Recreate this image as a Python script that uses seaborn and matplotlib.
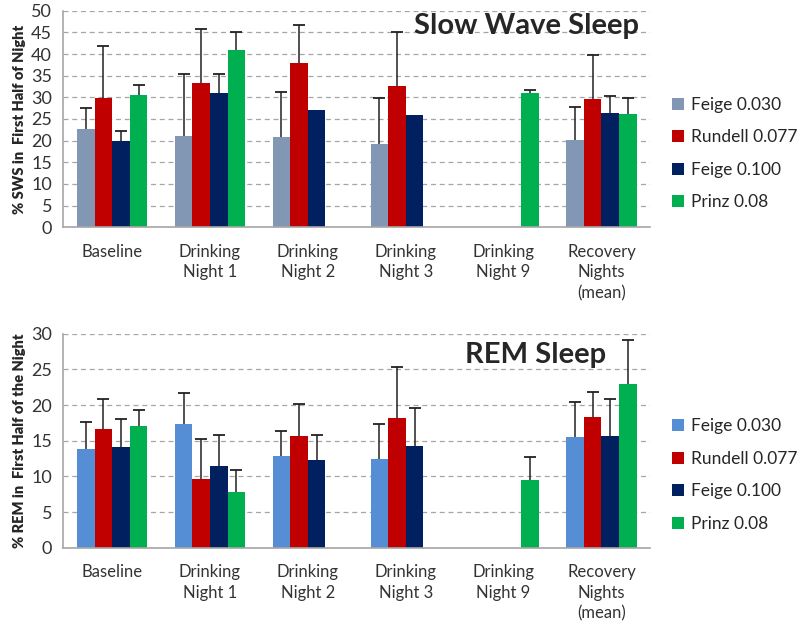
import numpy as np
import pandas as pd
import matplotlib
matplotlib.use("Agg")
import matplotlib.pyplot as plt
import seaborn as sns

categories = ["Baseline", "Drinking\nNight 1", "Drinking\nNight 2", "Drinking\nNight 3",
              "Drinking\nNight 9", "Recovery\nNights\n(mean)"]
groups = ["Feige 0.030", "Rundell 0.077", "Feige 0.100", "Prinz 0.08"]

# slow wave sleep (% in first half of night), None = not measured
sws_feige030 = [22.7, 21.1, 20.8, 19.3, None, 20.1]
sws_rundell077 = [29.9, 33.3, 38.0, 32.7, None, 29.6]
sws_feige100 = [19.8, 31.1, 27.0, 25.9, None, 26.3]
sws_prinz008 = [30.5, 41.0, None, None, 30.9, 26.1]
sws_err_feige030 = [4.8, 14.2, 10.4, 10.5, None, 7.7]
sws_err_rundell077 = [11.9, 12.5, 8.8, 12.3, None, 10.2]
sws_err_feige100 = [2.4, 4.2, None, None, None, 4.0]
sws_err_prinz008 = [2.3, 4.2, None, None, 0.7, 3.8]

# REM sleep (% in first half of the night)
rem_feige030 = [13.8, 17.3, 12.9, 12.5, None, 15.5]
rem_rundell077 = [16.6, 9.7, 15.6, 18.2, None, 18.3]
rem_feige100 = [14.1, 11.5, 12.3, 14.2, None, 15.7]
rem_prinz008 = [17.1, 7.8, None, None, 9.5, 23.0]
rem_err_feige030 = [3.8, 4.4, 3.4, 4.8, None, 5.0]
rem_err_rundell077 = [4.2, 5.5, 4.6, 7.1, None, 3.5]
rem_err_feige100 = [3.9, 4.3, 3.5, 5.4, None, 5.2]
rem_err_prinz008 = [2.2, 3.1, None, None, 3.2, 6.1]

sws_colors = ["#8197B4", "#C00000", "#002060", "#00B050"]
rem_colors = ["#558ED5", "#C00000", "#002060", "#00B050"]


def long_table(vals, errs):
    rows = []
    for g, v_list, e_list in zip(groups, vals, errs):
        for c, v, e in zip(categories, v_list, e_list):
            if v is not None:
                rows.append({"cat": c, "group": g, "val": v, "err": e})
    return pd.DataFrame(rows)


sns.set_style("white")
plt.rcParams["font.family"] = ["Lato", "DejaVu Sans"]

fig = plt.figure(figsize=(8, 6.31), dpi=100)
ax1 = fig.add_axes([0.079, 0.640, 0.734, 0.343])
ax2 = fig.add_axes([0.079, 0.132, 0.734, 0.339])


def draw(ax, df, colors, ymax, ylabel, title, title_xy, title_ha):
    sns.barplot(data=df, x="cat", y="val", hue="group", order=categories,
                hue_order=groups, palette=colors, width=0.72, saturation=1,
                errorbar=None, linewidth=0, ax=ax)
    for g, cont in zip(groups, ax.containers):
        sub = df[df["group"] == g]
        present = [c for c in categories if c in set(sub["cat"])]
        sub = sub.set_index("cat").reindex(present)
        for bar, (_, row) in zip(cont, sub.iterrows()):
            if pd.notna(row["err"]):
                x = bar.get_x() + bar.get_width() / 2
                top = bar.get_height() + row["err"]
                ax.plot([x, x], [bar.get_height(), top], color="#222222",
                        lw=1.1, zorder=3, solid_capstyle="butt")
                ax.plot(x, top, marker="_", markersize=8, mew=1.3,
                        color="#222222", zorder=3)
    ax.set_ylim(0, ymax)
    ax.set_xlim(-0.5, len(categories) - 0.5)
    ax.set_yticks(np.arange(0, ymax + 1, 5))
    ax.yaxis.grid(True, linestyle=(0, (4, 3)), color="#A6A6A6", linewidth=0.9)
    ax.set_axisbelow(True)
    for s in ["top", "right"]:
        ax.spines[s].set_visible(False)
    for s in ["left", "bottom"]:
        ax.spines[s].set_color("#A6A6A6")
        ax.spines[s].set_linewidth(1.2)
    ax.tick_params(axis="y", length=5, color="#A6A6A6", labelsize=13,
                   labelcolor="#333333", pad=3)
    ax.tick_params(axis="x", which="major", length=0, labelsize=12,
                   labelcolor="#333333", pad=12)
    for lab in ax.get_xticklabels():
        lab.set_linespacing(1.35)
    ax.set_xticks(np.arange(-0.5, len(categories), 1), minor=True)
    ax.tick_params(axis="x", which="minor", length=5, color="#A6A6A6", width=1.2)
    ax.set_xlabel("")
    ax.set_ylabel(ylabel, fontsize=10.5, fontweight="heavy", labelpad=4)
    ax.text(title_xy[0], title_xy[1], title, transform=ax.transAxes,
            fontsize=21, fontweight="bold", ha=title_ha, va="center")
    handles, labels = ax.get_legend_handles_labels()
    ax.legend(handles, labels, loc="center left", bbox_to_anchor=(1.01, 0.34),
              frameon=False, fontsize=12.5, handlelength=0.7, handleheight=0.7,
              handletextpad=0.4, labelspacing=0.95)


draw(ax1, long_table([sws_feige030, sws_rundell077, sws_feige100, sws_prinz008],
                     [sws_err_feige030, sws_err_rundell077, sws_err_feige100, sws_err_prinz008]),
     sws_colors, 50, "% SWS in  First Half of Night", "Slow Wave Sleep", (0.98, 0.93), "right")
draw(ax2, long_table([rem_feige030, rem_rundell077, rem_feige100, rem_prinz008],
                     [rem_err_feige030, rem_err_rundell077, rem_err_feige100, rem_err_prinz008]),
     rem_colors, 30, "% REM in  First Half of the Night", "REM Sleep", (0.805, 0.90), "center")

fig.savefig("out.png", dpi=100)
